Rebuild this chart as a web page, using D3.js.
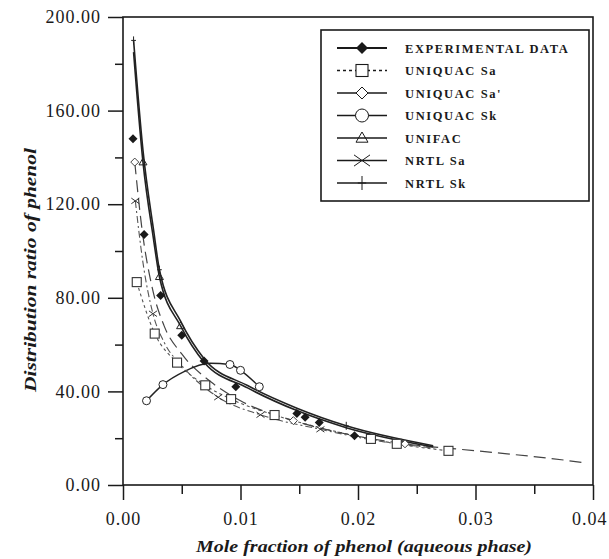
<!DOCTYPE html>
<html><head><meta charset="utf-8">
<script src="https://cdn.jsdelivr.net/npm/d3@7"></script>
<style>body{margin:0;background:#fff}svg{display:block}</style>
</head><body>
<svg id="c" width="609" height="559"></svg>
<script>
// ---- data ----
const xTicks = [0, 0.01, 0.02, 0.03, 0.04];
const xMinorTicks = [0.005, 0.015, 0.025, 0.035];
const yTicks = [0, 40, 80, 120, 160, 200];
const yMinorTicks = [20, 60, 100, 140, 180];
const xTitle = "Mole fraction of phenol (aqueous phase)";
const yTitle = "Distribution ratio of phenol";
const seriesNames = ["EXPERIMENTAL DATA","UNIQUAC Sa","UNIQUAC Sa'","UNIQUAC Sk","UNIFAC","NRTL Sa","NRTL Sk"];

const experimental = [[0.00085,148],[0.0018,107],[0.0032,81],[0.0050,64],[0.0069,53],[0.0096,42],[0.0148,30.6],[0.0155,29],[0.0167,26.7],[0.0197,21]];

const uniquacSa = [[0.00117,86.7],[0.0027,64.7],[0.0046,52.3],[0.0070,42.6],[0.0092,36.7],[0.0129,29.9],[0.0170,24.2],[0.0211,19.7],[0.0233,17.6],[0.0277,14.6]];
const uniquacSaMarks = [[0.00117,86.7],[0.0027,64.7],[0.0046,52.3],[0.0070,42.6],[0.0092,36.7],[0.0129,29.9],[0.0211,19.7],[0.0233,17.6],[0.0277,14.6]];

const uniquacSa2 = [[0.001,138],[0.0016,110],[0.0025,84],[0.0035,68],[0.005,56],[0.0075,44],[0.0100,36],[0.0145,27.5],[0.019,21.8],[0.024,17.6],[0.0301,14.6],[0.0327,13.3],[0.0363,11.4],[0.0393,9.5]];
const uniquacSa2Marks = [[0.001,138],[0.0145,27.5],[0.024,17.6]];

const uniquacSk = [[0.002,36],[0.0034,42.9],[0.0052,48.5],[0.0074,52],[0.0091,51.5],[0.0100,49],[0.0116,42]];
const uniquacSkMarks = [[0.002,36],[0.0034,42.9],[0.0091,51.5],[0.0100,49],[0.0116,42]];

const unifac = [[0.0009,185],[0.0017,138],[0.0026,105],[0.0031,89],[0.0049,68],[0.0069,52.5],[0.0106,41.5],[0.0148,31.8],[0.019,24.5],[0.0264,16.3]];
const unifacMarks = [[0.0017,138],[0.0031,89],[0.0049,68]];

const nrtlSa = [[0.00105,121.4],[0.0017,95],[0.00255,73.2],[0.0035,61],[0.005,51],[0.0081,37.5],[0.0117,30],[0.0168,23.8],[0.022,18.6],[0.0265,15.8]];
const nrtlSaMarks = [[0.00105,121.4],[0.00255,73.2],[0.0081,37.5],[0.0117,30],[0.0168,23.8]];

const nrtlSk = [[0.0009,190],[0.0017,143],[0.0026,109],[0.0031,92],[0.0049,70],[0.0069,54],[0.0106,42.5],[0.0148,32.8],[0.019,25.3],[0.0264,16.8]];
const nrtlSkMarks = [[0.0009,190],[0.0031,92],[0.019,25.3]];

// ---- layout ----
const svg = d3.select("#c");
const L = 123, R = 593, T = 17, B = 485;
const x = d3.scaleLinear().domain([0, 0.04]).range([L, R]);
const y = d3.scaleLinear().domain([0, 200]).range([B, T]);
const ink = "#1a1a1a";
const serif = "'Liberation Serif','DejaVu Serif',serif";

// frame
svg.append("rect").attr("x", L).attr("y", T).attr("width", R - L).attr("height", B - T)
  .attr("fill", "none").attr("stroke", ink).attr("stroke-width", 1.6);

// axes
function styleAxis(g){
  g.select(".domain").remove();
  g.selectAll("line").attr("stroke", ink).attr("stroke-width", 1.5);
  g.selectAll("text").attr("fill", ink).style("font-family", serif).style("font-size", "18px").style("letter-spacing","1px");
}
const yAx = svg.append("g").attr("transform", `translate(${L},0)`)
  .call(d3.axisLeft(y).tickValues(yTicks).tickSize(15).tickPadding(7).tickFormat(d3.format(".2f")));
styleAxis(yAx);
const yMin = svg.append("g").attr("transform", `translate(${L},0)`)
  .call(d3.axisLeft(y).tickValues(yMinorTicks).tickSize(8).tickFormat(""));
styleAxis(yMin);
const xAx = svg.append("g").attr("transform", `translate(0,${B})`)
  .call(d3.axisBottom(x).tickValues(xTicks).tickSize(15).tickPadding(12).tickFormat(d3.format(".2f")));
styleAxis(xAx);
// keep the last label inside the page edge
xAx.selectAll(".tick").filter(d => d === 0.04).select("text")
  .attr("text-anchor", "end").attr("x", 607 - R);
const xMin = svg.append("g").attr("transform", `translate(0,${B})`)
  .call(d3.axisBottom(x).tickValues(xMinorTicks).tickSize(9).tickFormat(""));
styleAxis(xMin);

// titles
svg.append("text").attr("x", 364).attr("y", 552).attr("text-anchor", "middle")
  .style("font-family", serif).style("font-size", "17px").style("font-style", "italic").style("font-weight", "bold")
  .attr("fill", ink).attr("textLength", 336).attr("lengthAdjust","spacingAndGlyphs").text(xTitle);
svg.append("text").attr("transform", "translate(36,270) rotate(-90)").attr("text-anchor", "middle")
  .style("font-family", serif).style("font-size", "17px").style("font-style", "italic").style("font-weight", "bold")
  .attr("fill", ink).attr("textLength", 244).attr("lengthAdjust","spacingAndGlyphs").text(yTitle);

// series
const line = d3.line().x(d => x(d[0])).y(d => y(d[1])).curve(d3.curveMonotoneX);
const styles = [
  {data: null, marks: experimental, dash: null, w: 1.8, col: ink, shape: "diamondFilled"},
  {data: uniquacSa, marks: uniquacSaMarks, dash: "3,3", w: 1.1, col: "#555", shape: "square"},
  {data: uniquacSa2, marks: uniquacSa2Marks, dash: "12,6", w: 1.2, col: "#444", shape: "diamond"},
  {data: uniquacSk, marks: uniquacSkMarks, dash: null, w: 1.4, col: "#222", shape: "circle"},
  {data: unifac, marks: unifacMarks, dash: null, w: 1.6, col: "#222", shape: "triangle"},
  {data: nrtlSa, marks: nrtlSaMarks, dash: "7,3,2,3", w: 1.1, col: "#555", shape: "cross"},
  {data: nrtlSk, marks: nrtlSkMarks, dash: null, w: 1.6, col: "#222", shape: "plus"}
];

function marker(g, shape, cx, cy, s, col){
  const h = s / 2;
  if (shape === "diamondFilled") {
    g.append("path").attr("d", `M${cx},${cy-h}L${cx+h},${cy}L${cx},${cy+h}L${cx-h},${cy}Z`).attr("fill", col);
  } else if (shape === "diamond") {
    g.append("path").attr("d", `M${cx},${cy-h}L${cx+h},${cy}L${cx},${cy+h}L${cx-h},${cy}Z`).attr("fill", "#fff").attr("stroke", col).attr("stroke-width", 1);
  } else if (shape === "square") {
    g.append("rect").attr("x", cx-h).attr("y", cy-h).attr("width", s).attr("height", s).attr("fill", "#fff").attr("stroke", col).attr("stroke-width", 1.1);
  } else if (shape === "circle") {
    g.append("circle").attr("cx", cx).attr("cy", cy).attr("r", h).attr("fill", "#fff").attr("stroke", col).attr("stroke-width", 1);
  } else if (shape === "triangle") {
    g.append("path").attr("d", `M${cx},${cy-h}L${cx+h},${cy+h*0.7}L${cx-h},${cy+h*0.7}Z`).attr("fill", "none").attr("stroke", col).attr("stroke-width", 1);
  } else if (shape === "cross") {
    g.append("path").attr("d", `M${cx-h},${cy-h*0.7}L${cx+h},${cy+h*0.7}M${cx-h},${cy+h*0.7}L${cx+h},${cy-h*0.7}`).attr("stroke", col).attr("stroke-width", 1);
  } else if (shape === "plus") {
    g.append("path").attr("d", `M${cx},${cy-h}L${cx},${cy+h}M${cx-h*0.6},${cy}L${cx+h*0.6},${cy}`).attr("stroke", col).attr("stroke-width", 1);
  }
}

const plot = svg.append("g");
styles.forEach(s => {
  if (s.data) {
    plot.append("path").datum(s.data).attr("d", line).attr("fill", "none")
      .attr("stroke", s.col).attr("stroke-width", s.w).attr("stroke-dasharray", s.dash);
  }
});
styles.slice().reverse().forEach(s => {
  const size = s.shape === "diamondFilled" ? 9 : (s.shape === "square" ? 9 : 8);
  s.marks.forEach(d => marker(plot, s.shape, x(d[0]), y(d[1]), size, s.col === "#555" ? "#333" : s.col));
});

// legend
const lg = svg.append("g");
lg.append("rect").attr("x", 321).attr("y", 30).attr("width", 268).attr("height", 171)
  .attr("fill", "#fff").attr("stroke", ink).attr("stroke-width", 1.6);
const lsizes = [12, 12, 12, 13, 12, 16, 14];
seriesNames.forEach((name, i) => {
  const ry = 48 + i * 22.5;
  const s = styles[i];
  lg.append("line").attr("x1", 337).attr("x2", 387).attr("y1", ry).attr("y2", ry)
    .attr("stroke", ink).attr("stroke-width", i === 0 ? 1.8 : 1.3).attr("stroke-dasharray", i === 1 ? "3,3" : null);
  marker(lg, s.shape, 362, ry, lsizes[i], ink);
  lg.append("text").attr("x", 405).attr("y", ry + 4.5)
    .style("font-family", serif).style("font-size", "12.5px").style("font-weight", "bold").style("letter-spacing", "1.6px")
    .attr("fill", ink).text(name);
});
</script>
</body></html>
